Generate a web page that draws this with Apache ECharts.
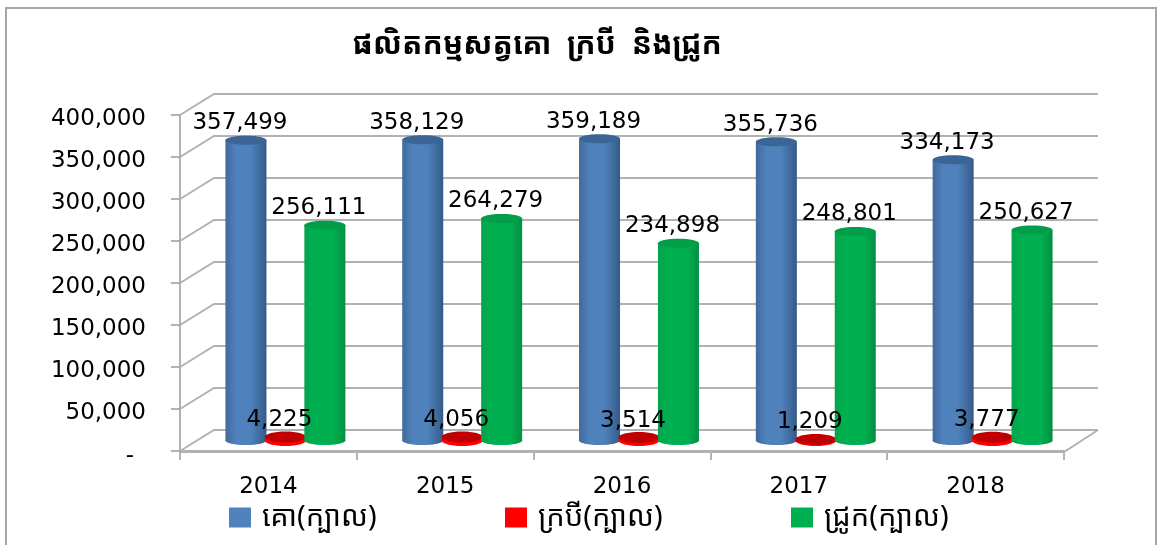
<!DOCTYPE html>
<html><head><meta charset="utf-8">
<style>html,body{margin:0;padding:0;background:#fff}#c{width:1157px;height:545px}</style>
<script src="https://cdn.jsdelivr.net/npm/echarts@6/dist/echarts.min.js"></script>
</head><body><div id="c"></div>
<script>
const years = ['2014','2015','2016','2017','2018'];
const cattle = [357499,358129,359189,355736,334173];
const buffalo = [4225,4056,3514,1209,3777];
const pigs = [256111,264279,234898,248801,250627];
const yTicks = [0,50000,100000,150000,200000,250000,300000,350000,400000];
const titleText = 'ផលិតកម្មសត្វគោ  ក្របី  និងជ្រូក';
const names = ['គោ(ក្បាល)','ក្របី(ក្បាល)','ជ្រូក(ក្បាល)'];

const FONT = '"DejaVu Sans","Noto Sans",sans-serif';
const KHMER = '"Noto Sans Khmer","Khmer OS","Noto Sans",sans-serif';
const DX = 34, DY = -21;
const GRID_C = '#b2b2b2';

function wall(params, api){
  const v = api.value(0);
  const cs = params.coordSys;
  const y = api.coord([0, v])[1];
  const x0 = cs.x, x1 = cs.x + cs.width;
  const st = {stroke: GRID_C, lineWidth: 2, fill: null};
  const kids = [{type:'polyline', shape:{points:[[x0,y],[x0+DX,y+DY],[x1+DX,y+DY]]}, style:st}];
  if (v === 0) kids.push({type:'polyline', shape:{points:[[x0,y+1],[x1,y+1],[x1+DX,y+DY]]}, style:st});
  return {type:'group', children:kids};
}

function cylinder(offset, topColor, stops, ry){
  return function(params, api){
    const band = api.size([1,0])[0];
    const p = api.coord([api.value(0), api.value(1)]);
    const b = api.coord([api.value(0), 0]);
    const cx = p[0] + offset*band + DX/2;
    const yt = p[1] + DY/2;
    const yb = b[1] + DY/2;
    const rx = 0.116*band;
    const grad = new echarts.graphic.LinearGradient(0,0,1,0,stops);
    return {type:'group', children:[
      {type:'ellipse', shape:{cx:cx, cy:yb, rx:rx, ry:ry}, style:{fill:grad}},
      {type:'rect', shape:{x:cx-rx, y:yt, width:2*rx, height:yb-yt}, style:{fill:grad}},
      {type:'ellipse', shape:{cx:cx, cy:yt, rx:rx, ry:ry}, style:{fill:topColor}}
    ]};
  };
}

function labelItem(offset){
  return function(params, api){
    const band = api.size([1,0])[0];
    const p = api.coord([api.value(0), api.value(1)]);
    return {type:'text', style:{text:echarts.format.addCommas(api.value(1)),
      x:p[0] + offset*band + DX/2 - 6, y:p[1] + DY/2 - 17, align:'center', verticalAlign:'middle',
      font:'23px '+FONT, fill:'#000'}};
  };
}

function seriesFor(name, vals, color, offset, topColor, stops, ry, z){
  return {name, type:'custom', coordinateSystem:'cartesian2d', clip:false, silent:true, z,
    itemStyle:{color}, encode:{x:0,y:1},
    data: vals.map((v,i)=>[i,v]),
    renderItem: cylinder(offset, topColor, stops, ry)};
}
function labelsFor(vals, offset){
  return {type:'custom', coordinateSystem:'cartesian2d', clip:false, silent:true, z:10,
    encode:{x:0,y:1}, data: vals.map((v,i)=>[i,v]), renderItem: labelItem(offset)};
}

const blueStops = [{offset:0,color:'#41699b'},{offset:.25,color:'#4f81bd'},{offset:.62,color:'#4f81bd'},{offset:1,color:'#345a87'}];
const greenStops = [{offset:0,color:'#02a44b'},{offset:.25,color:'#00b050'},{offset:.7,color:'#00b050'},{offset:1,color:'#038f43'}];
const redStops = [{offset:0,color:'#ff0000'},{offset:1,color:'#ff0000'}];

const legendBase = {itemWidth:22,itemHeight:20,top:503,icon:'rect',padding:0,itemGap:0,
  textStyle:{fontSize:29,fontFamily:KHMER,color:'#000',padding:[0,0,0,6]}};

const tickRich = {fontSize:23,fontFamily:FONT,color:'#000'};

const chart = echarts.init(document.getElementById('c'),null,{renderer:'canvas'});
chart.setOption({
  animation:false,
  backgroundColor:'#fff',
  title:{text:titleText,left:532,top:25,textAlign:'center',
    textStyle:{fontSize:30,fontWeight:'bold',color:'#000',fontFamily:KHMER}},
  graphic:[{type:'polyline',silent:true,shape:{points:[[6,545],[6,8],[1156,8],[1156,545]]},style:{stroke:'#a6a6a6',lineWidth:2,fill:null}}],
  legend:[
    Object.assign({},legendBase,{left:229,data:[names[0]]}),
    Object.assign({},legendBase,{left:505,data:[names[1]]}),
    Object.assign({},legendBase,{left:791,data:[names[2]]})
  ],
  grid:{left:180,top:115,width:884,height:336,containLabel:false},
  xAxis:{type:'category',data:years,boundaryGap:true,
    axisLine:{show:true,lineStyle:{color:GRID_C,width:2}},
    axisTick:{show:true,alignWithLabel:false,length:9,lineStyle:{color:'#9a9a9a',width:1.5}},
    axisLabel:{fontSize:23,fontFamily:FONT,color:'#000',margin:25}},
  yAxis:{type:'value',min:0,max:400000,interval:50000,
    splitLine:{show:false},
    axisLine:{show:true,lineStyle:{color:GRID_C,width:2}},
    axisTick:{show:true,length:9,lineStyle:{color:'#9a9a9a',width:1.5}},
    axisLabel:{margin:34,
      formatter:v=>v===0?'{z|-}':'{n|'+echarts.format.addCommas(v)+'}',
      rich:{n:Object.assign({padding:[8,0,0,0]},tickRich),z:Object.assign({padding:[10,12,0,0]},tickRich)}}},
  series:[
    {type:'custom',name:'wall',silent:true,clip:false,z:1,coordinateSystem:'cartesian2d',
      encode:{y:0},data:yTicks.map(v=>[v]),renderItem:wall},
    seriesFor(names[0],cattle,'#4f81bd',-0.2232,'#3b6595',blueStops,4.5,3),
    seriesFor(names[1],buffalo,'#ff0000',0,'#c00000',redStops,5.5,4),
    seriesFor(names[2],pigs,'#00b050',0.2232,'#019d48',greenStops,4.5,5),
    labelsFor(cattle,-0.2232), labelsFor(buffalo,0), labelsFor(pigs,0.2232)
  ]
});
</script></body></html>
